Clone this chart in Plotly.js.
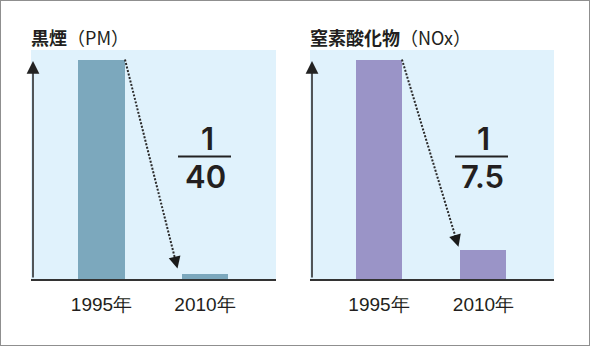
<!DOCTYPE html>
<html><head><meta charset="utf-8">
<script src="https://cdn.plot.ly/plotly-3.0.1.min.js"></script>
<style>html,body{margin:0;padding:0;background:#fff}#chart{width:590px;height:346px}</style>
</head><body><div id="chart"></div>
<script>
const years = ['1995年', '2010年'];
const pmValues = [40, 1];
const noxValues = [7.5, 1];
const pmRatio = ['1', '40'];
const noxRatio = ['1', '7.5'];
const titleMain = ['黒煙', '窒素酸化物'];
const titleSub = ['（PM）', '（NOx）'];

const W = 590, H = 346;
const panels = [
  {vals: pmValues, ratio: pmRatio, tmain: titleMain[0], tsub: titleSub[0], color: '#7ca8bd',
   xd: [31, 276], yd: [50, 279], xr: [-0.681, 1.686], w: 0.454, fracX: 205, tipShift: [-4, 5]},
  {vals: noxValues, ratio: noxRatio, tmain: titleMain[1], tsub: titleSub[1], color: '#9a94c7',
   xd: [310, 554], yd: [50, 279], xr: [-0.66, 1.675], w: 0.44, fracX: 482, tipShift: [-2, 3]}
];
const topPx = 59.5;
panels.forEach(p => { p.yr = [0, p.vals[0] * (p.yd[1] - p.yd[0]) / (p.yd[1] - topPx)]; });

function x2px(p, x) { return p.xd[0] + (x - p.xr[0]) / (p.xr[1] - p.xr[0]) * (p.xd[1] - p.xd[0]); }
function px2x(p, px) { return p.xr[0] + (px - p.xd[0]) / (p.xd[1] - p.xd[0]) * (p.xr[1] - p.xr[0]); }
function y2px(p, y) { return p.yd[1] - (y - p.yr[0]) / (p.yr[1] - p.yr[0]) * (p.yd[1] - p.yd[0]); }
function px2y(p, px) { return p.yr[0] + (p.yd[1] - px) / (p.yd[1] - p.yd[0]) * (p.yr[1] - p.yr[0]); }

const data = [];
const shapes = [];
const annotations = [];
const layout = {
  width: W, height: H, margin: {l: 0, r: 0, t: 0, b: 0},
  paper_bgcolor: '#ffffff', plot_bgcolor: '#e0f2fc', showlegend: false,
  bargap: 0
};
const txt = '#231f20';

panels.forEach((p, i) => {
  const xa = i === 0 ? 'x' : 'x2', ya = i === 0 ? 'y' : 'y2';
  const xk = i === 0 ? 'xaxis' : 'xaxis2', yk = i === 0 ? 'yaxis' : 'yaxis2';
  data.push({type: 'bar', x: [0, 1], y: p.vals, width: p.w, xaxis: xa, yaxis: ya,
    marker: {color: p.color, line: {width: 0}}, hoverinfo: 'skip'});
  layout[xk] = {domain: [p.xd[0] / W, p.xd[1] / W], range: p.xr, type: 'linear',
    tickvals: [0, 1], ticktext: years, ticks: '', showgrid: false, zeroline: false,
    showline: true, linecolor: '#333333', linewidth: 1.5, ticklabelstandoff: 8,
    tickfont: {family: 'Arial', size: 19, color: txt}, fixedrange: true, anchor: ya};
  layout[yk] = {domain: [1 - p.yd[1] / H, 1 - p.yd[0] / H], range: p.yr, showgrid: false,
    zeroline: false, showticklabels: false, showline: false, ticks: '', fixedrange: true, anchor: xa};

  // title
  annotations.push({xref: 'paper', yref: 'paper', x: (p.xd[0] - 2) / W, y: 1 - 37 / H,
    xanchor: 'left', yanchor: 'middle', showarrow: false,
    text: '<b>' + p.tmain + '</b>' + p.tsub,
    font: {family: 'Noto Sans CJK JP', size: 18, color: txt}});

  // y axis arrow
  const axX = px2x(p, p.xd[0] + 2);
  annotations.push({xref: xa, yref: ya, x: axX, y: px2y(p, 61), axref: xa, ayref: ya,
    ax: axX, ay: 0, text: '', showarrow: true, arrowhead: 2, arrowsize: 1.7, arrowwidth: 1.5,
    arrowcolor: '#222222', standoff: 0});

  // dotted arrow between bars
  const sx = x2px(p, 0 + p.w / 2), sy = y2px(p, p.vals[0]);
  const tx = x2px(p, 1 - p.w / 2) + p.tipShift[0], ty = y2px(p, p.vals[1]) - p.tipShift[1];
  const dx = tx - sx, dy = ty - sy, L = Math.hypot(dx, dy), ux = dx / L, uy = dy / L;
  const ex = tx - 8 * ux, ey = ty - 8 * uy;
  shapes.push({type: 'line', xref: xa, yref: ya, x0: 0 + p.w / 2, y0: p.vals[0],
    x1: px2x(p, ex), y1: px2y(p, ey), line: {color: '#2a2a2a', width: 2, dash: '2px,1.6px'}});
  annotations.push({xref: xa, yref: ya, x: px2x(p, tx), y: px2y(p, ty), ax: -13 * ux, ay: -13 * uy,
    text: '', showarrow: true, arrowhead: 2, arrowsize: 1.5, arrowwidth: 1.6,
    arrowcolor: '#1a1a1a', standoff: 0});

  // fraction
  annotations.push({xref: 'paper', yref: 'paper', x: (p.fracX + 2) / W, y: 1 - 138 / H,
    xanchor: 'center', yanchor: 'middle', showarrow: false, text: p.ratio[0],
    font: {family: 'Inter, Arial', size: 31, weight: 600, color: txt}});
  annotations.push({xref: 'paper', yref: 'paper', x: p.fracX / W, y: 1 - 176 / H,
    xanchor: 'center', yanchor: 'middle', showarrow: false, text: p.ratio[1],
    font: {family: 'Inter, Arial', size: 31, weight: 600, color: txt}});
  shapes.push({type: 'line', xref: 'paper', yref: 'paper', x0: (p.fracX - 27) / W, x1: (p.fracX + 26) / W,
    y0: 1 - 156.5 / H, y1: 1 - 156.5 / H, line: {color: '#222222', width: 2}});
});

// outer frame
shapes.push({type: 'rect', xref: 'paper', yref: 'paper', x0: 0, x1: 1, y0: 0, y1: 1,
  line: {color: '#8f8f8f', width: 2}, layer: 'above'});

layout.shapes = shapes;
layout.annotations = annotations;
Plotly.newPlot('chart', data, layout, {staticPlot: true, displayModeBar: false});
</script></body></html>
